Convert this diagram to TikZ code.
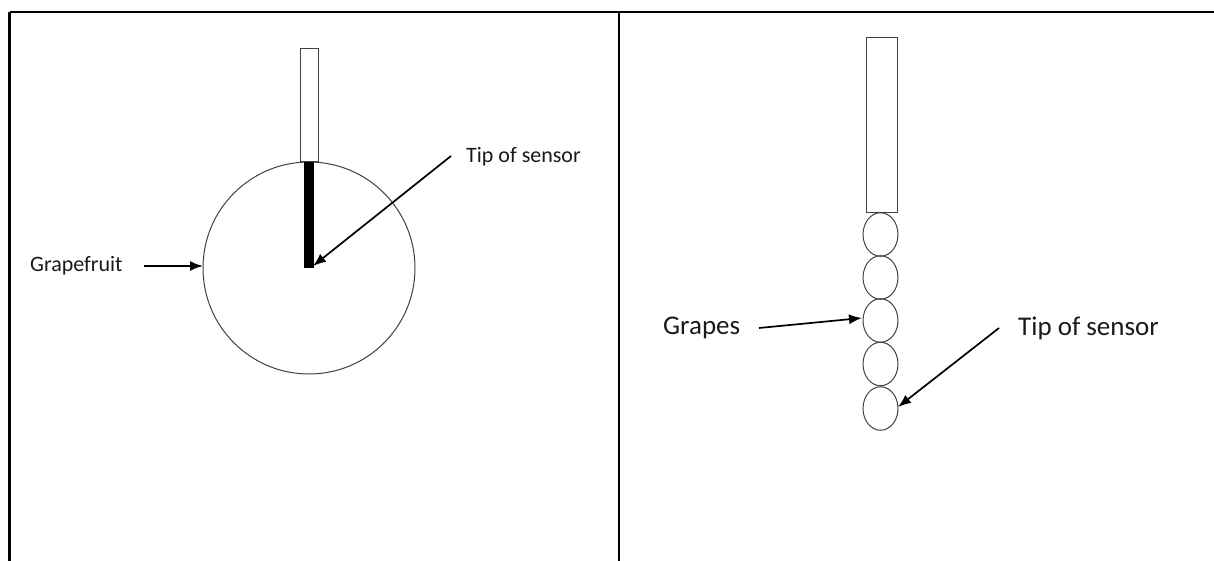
\documentclass[tikz,border=0pt]{standalone}
\usepackage{fontspec}
\setmainfont{Carlito}
\usetikzlibrary{arrows.meta,shapes.geometric}
\begin{document}
\begin{tikzpicture}[x=1pt,y=-1pt,
  frame/.style={line width=2.2pt,black},
  outline/.style={draw=black!75,line width=1pt},
  pointer/.style={line width=1.7pt,-{Latex[length=13pt,width=10pt]}},
  smalllabel/.style={inner sep=0pt,anchor=west,text=black!90,font=\fontsize{22}{26}\selectfont},
  biglabel/.style={inner sep=0pt,anchor=west,text=black!90,font=\fontsize{27}{32}\selectfont}]
\useasboundingbox (0,0) rectangle (1214,561);
% table frame
\coordinate (tl) at (9.5,12);
\coordinate (tr) at (1214,12);
\coordinate (bl) at (9.5,561);
\coordinate (mt) at (619,12);
\coordinate (mb) at (619,561);
\draw[frame] (tl) -- (tr);
\draw[frame] (tl) -- (bl);
\draw[frame] (mt) -- (mb);
% left panel
\node[outline,circle,minimum size=212pt,inner sep=0pt] (fruit) at (309,268) {};
\node[outline,rectangle,minimum width=18pt,minimum height=113pt,inner sep=0pt,anchor=south] (lsensor) at (309,162) {};
\fill[black] (304,162) rectangle (314,268);
\coordinate (ltip) at (313,266);
\node[smalllabel] (grapefruit) at (30,266) {Grapefruit};
\coordinate (gfstart) at (144,266);
\coordinate (gfend) at (203,266);
\draw[pointer] (gfstart) -- (gfend);
\node[smalllabel] (ltiplabel) at (466,157) {Tip of sensor};
\coordinate (ltipstart) at (451,156);
\draw[pointer] (ltipstart) -- (ltip);
% right panel
\node[outline,rectangle,minimum width=31pt,minimum height=175pt,inner sep=0pt,anchor=south] (rsensor) at (881.5,213) {};
\foreach \i/\y in {1/234.5,2/277.5,3/320.5,4/364,5/408.5}{
  \node[outline,ellipse,minimum width=35pt,minimum height=43.5pt,inner sep=0pt] (g\i) at (880.5,\y) {};
}
\node[biglabel] (grapes) at (663,328) {Grapes};
\coordinate (grstart) at (759,328);
\coordinate (grend) at (862,318);
\draw[pointer] (grstart) -- (grend);
\node[biglabel] (rtiplabel) at (1018,328) {Tip of sensor};
\coordinate (rtipstart) at (999,328);
\coordinate (rtipend) at (898,407);
\draw[pointer] (rtipstart) -- (rtipend);
\end{tikzpicture}
\end{document}
